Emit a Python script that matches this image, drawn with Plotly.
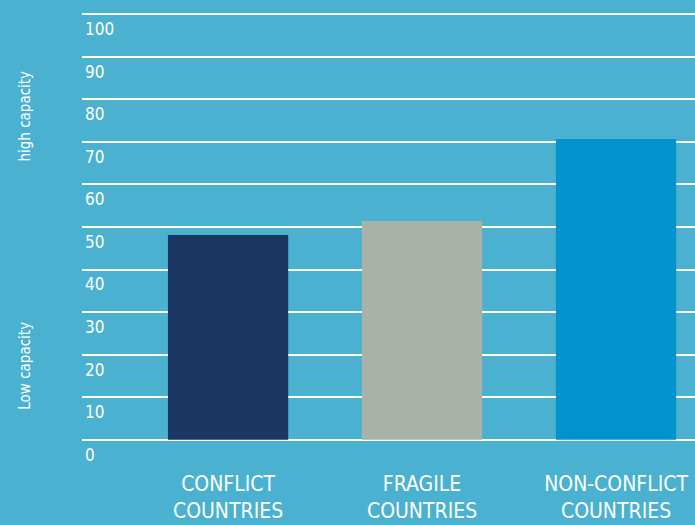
import plotly.graph_objects as go

categories = ["CONFLICT<br>COUNTRIES", "FRAGILE<br>COUNTRIES", "NON-CONFLICT<br>COUNTRIES"]
values = [48.1, 51.4, 70.7]
bar_colors = ["#1C3664", "#A8B2A8", "#0293CE"]
y_ticks = [0, 10, 20, 30, 40, 50, 60, 70, 80, 90, 100]
side_labels = ["high capacity", "Low capacity"]

BG = "#4AB2D0"
FONT = "DejaVu Sans Condensed, Liberation Sans Narrow, Arial Narrow, sans-serif"

fig = go.Figure(go.Bar(
    x=[0, 1, 2], y=values, marker=dict(color=bar_colors, line=dict(width=0)),
    width=0.62, hoverinfo="skip",
))

fig.update_layout(
    width=695, height=525,
    paper_bgcolor=BG, plot_bgcolor=BG,
    margin=dict(l=82, r=0, t=13, b=84),
    showlegend=False,
    font=dict(family=FONT, color="white"),
    xaxis=dict(
        range=[-0.753, 2.407], tickmode="array", tickvals=[0, 1, 2], ticktext=categories,
        showgrid=False, zeroline=False, showline=False, ticks="",
        tickfont=dict(size=21, color="white", family=FONT), ticklabelstandoff=28,
        ticklabeloverflow="allow",
    ),
    yaxis=dict(
        range=[-0.3, 100.3], tickmode="array", tickvals=y_ticks,
        ticktext=[str(v) for v in y_ticks],
        showgrid=True, gridcolor="white", gridwidth=1.5, zeroline=False,
        showline=False, ticks="", ticklabelposition="inside",
        ticklabelshift=15, ticklabelstandoff=0, ticklabeloverflow="allow",
        tickfont=dict(size=17, color="white", family=FONT),
    ),
)

fig.add_annotation(text=side_labels[0], xref="paper", yref="paper", x=0, y=0.758,
                   xshift=-57, yanchor="middle", xanchor="center", textangle=-90,
                   showarrow=False, font=dict(size=15, color="white", family=FONT))
fig.add_annotation(text=side_labels[1], xref="paper", yref="paper", x=0, y=0.176,
                   xshift=-57, yanchor="middle", xanchor="center", textangle=-90,
                   showarrow=False, font=dict(size=15, color="white", family=FONT))

fig.write_html("out.html", config={"displayModeBar": False},
               post_script="document.body.style.margin='0';document.body.style.background='" + BG + "';")
